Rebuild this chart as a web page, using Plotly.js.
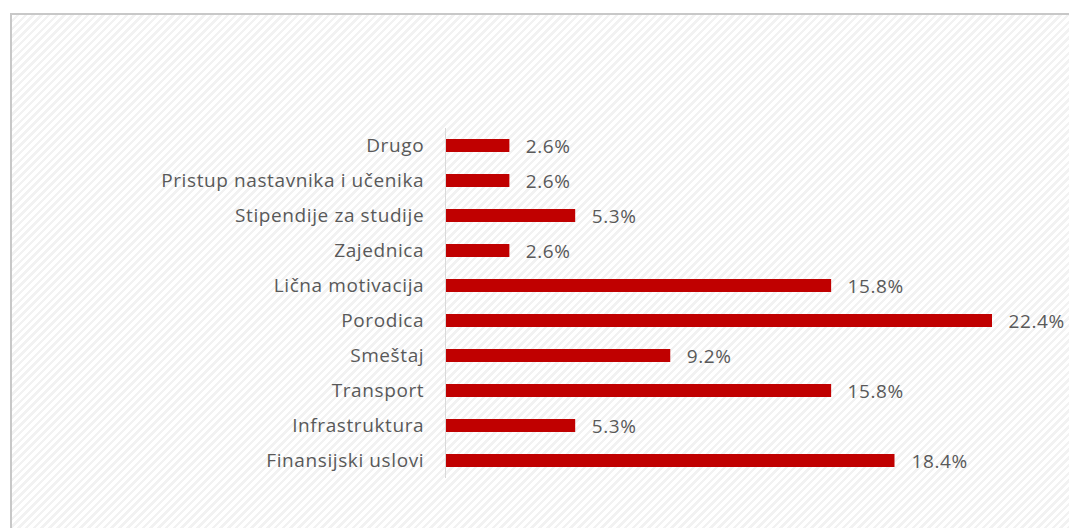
<!DOCTYPE html>
<html>
<head>
<meta charset="utf-8">
<script src="https://cdn.plot.ly/plotly-3.0.1.min.js"></script>
<style>
html,body{margin:0;padding:0;background:#fff;overflow:hidden;}
#frame{position:absolute;left:10px;top:13px;width:1200px;height:700px;border-left:2px solid #c8c8c8;border-top:2px solid #c8c8c8;
background:repeating-linear-gradient(135deg,#ffffff 0px,#ffffff 3px,#f2f2f2 3px,#f2f2f2 5.5px);}
#chart{position:absolute;left:0;top:0;width:1069px;height:528px;}
#chart svg text{letter-spacing:0.6px;}
</style>
</head>
<body>
<div id="frame"></div>
<div id="chart"></div>
<script>
const categories = ["Finansijski uslovi","Infrastruktura","Transport","Smeštaj","Porodica","Lična motivacija","Zajednica","Stipendije za studije","Pristup nastavnika i učenika","Drugo"];
const values = [18.4, 5.3, 15.8, 9.2, 22.4, 15.8, 2.6, 5.3, 2.6, 2.6];
const valueLabels = values.map(v => v.toFixed(1) + '%');

const font = {family:"Open Sans, Noto Sans, sans-serif", size:19, color:"#595959"};
Plotly.newPlot('chart', [{
  type:'bar', orientation:'h', x:values, y:categories,
  marker:{color:'#c00000'},
  hoverinfo:'none'
}], {
  width:1069, height:528,
  margin:{l:446, r:77, t:128, b:50},
  paper_bgcolor:'rgba(0,0,0,0)', plot_bgcolor:'rgba(0,0,0,0)',
  bargap:0.63,
  showlegend:false,
  font:font,
  xaxis:{range:[0,22.4], visible:false, fixedrange:true},
  yaxis:{type:'category', showline:true, linecolor:'#d9d9d9', linewidth:1, ticks:'', showgrid:false,
         ticklabelstandoff:17, tickfont:font, automargin:false},
  annotations: values.map((v,i) => ({
    x:v, y:categories[i], xref:'x', yref:'y', text:valueLabels[i], showarrow:false,
    xanchor:'left', yanchor:'middle', xshift:16, font:font
  }))
}, {displayModeBar:false, staticPlot:true});
</script>
</body>
</html>
